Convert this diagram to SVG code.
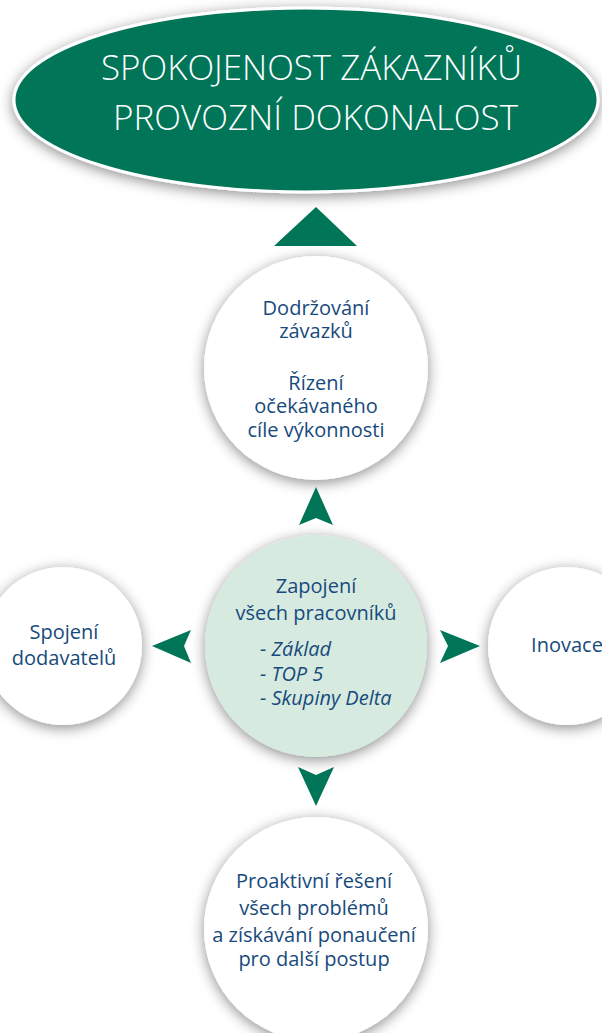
<svg xmlns="http://www.w3.org/2000/svg" width="602" height="1033" viewBox="0 0 602 1033">
  <style>
    .lbl { font-family: "Open Sans", "Liberation Sans", sans-serif; font-size: 20px; fill: #174a7c; text-anchor: middle; }
    .it { font-family: "Open Sans", "Liberation Sans", sans-serif; font-size: 20px; fill: #174a7c; font-style: italic; }
    .title { font-family: "Open Sans", "Liberation Sans", sans-serif; font-weight: 300; font-size: 34px; fill: #ffffff; }
    .circ { fill: #ffffff; filter: url(#sh); }
    .arrow { fill: #007558; }
  </style>
  <defs>
    <filter id="sh" x="-30%" y="-30%" width="160%" height="160%">
      <feGaussianBlur in="SourceAlpha" stdDeviation="7"/>
      <feOffset dx="0" dy="3" result="b"/>
      <feFlood flood-color="#000000" flood-opacity="0.45"/>
      <feComposite in2="b" operator="in"/>
      <feMerge><feMergeNode/><feMergeNode in="SourceGraphic"/></feMerge>
    </filter>
  </defs>
  <rect width="602" height="1033" fill="#ffffff"/>

  <g id="goal">
    <ellipse cx="306" cy="100" rx="292" ry="92" fill="#007558" stroke="#ffffff" stroke-width="3" filter="url(#sh)"/>
    <text class="title" x="101" y="80" textLength="421" lengthAdjust="spacingAndGlyphs">SPOKOJENOST ZÁKAZNÍKŮ</text>
    <text class="title" x="113" y="130" textLength="405" lengthAdjust="spacingAndGlyphs">PROVOZNÍ DOKONALOST</text>
  </g>

  <g id="commitments">
    <circle class="circ" cx="316" cy="368" r="112"/>
    <text class="lbl" x="316" y="315">Dodržování</text>
    <text class="lbl" x="316" y="338">závazků</text>
    <text class="lbl" x="316" y="390">Řízení</text>
    <text class="lbl" x="316" y="413">očekávaného</text>
    <text class="lbl" x="316" y="437">cíle výkonnosti</text>
  </g>

  <g id="engagement">
    <circle cx="316" cy="646" r="111" fill="#d6eae0" filter="url(#sh)"/>
    <text class="lbl" x="316" y="593">Zapojení</text>
    <text class="lbl" x="316" y="620">všech pracovníků</text>
    <text class="it" x="260" y="656">- Základ</text>
    <text class="it" x="260" y="681">- TOP 5</text>
    <text class="it" x="260" y="705">- Skupiny Delta</text>
  </g>

  <g id="suppliers">
    <circle class="circ" cx="63" cy="646" r="79"/>
    <text class="lbl" x="64" y="639">Spojení</text>
    <text class="lbl" x="64" y="665">dodavatelů</text>
  </g>

  <g id="innovation">
    <circle class="circ" cx="567" cy="646" r="79"/>
    <text class="lbl" x="567" y="652">Inovace</text>
  </g>

  <g id="problems">
    <circle class="circ" cx="316" cy="929" r="112"/>
    <text class="lbl" x="314" y="888">Proaktivní řešení</text>
    <text class="lbl" x="314" y="915">všech problémů</text>
    <text class="lbl" x="314" y="942">a získávání ponaučení</text>
    <text class="lbl" x="314" y="966">pro další postup</text>
  </g>

  <g id="connectors">
    <polygon class="arrow" points="316,207 357,246 274,246"/>
    <polygon class="arrow" points="316,487 333,525 316,518 299,525"/>
    <polygon class="arrow" points="298,767 316,775 334,767 316,806"/>
    <polygon class="arrow" points="152,646 191,630 184,646 191,663"/>
    <polygon class="arrow" points="480,646 440,630 448,646 440,663"/>
  </g>
</svg>
